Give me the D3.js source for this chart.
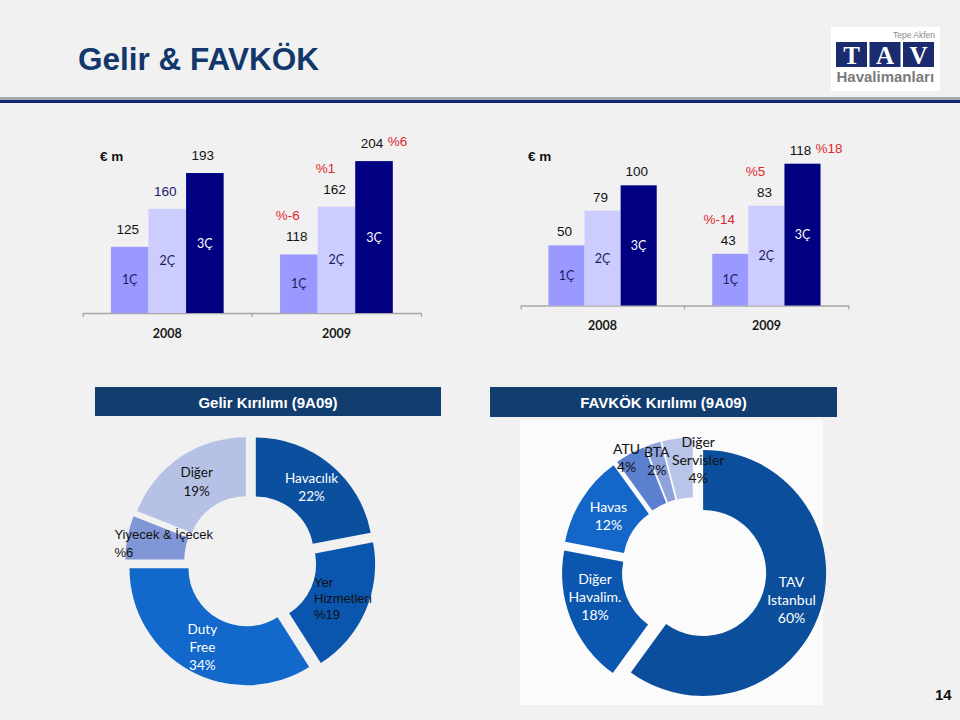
<!DOCTYPE html>
<html><head><meta charset="utf-8">
<script src="https://cdn.jsdelivr.net/npm/d3@7"></script>
<style>body{margin:0;background:#f1f1f1}svg{display:block}</style>
</head><body>
<svg id="c" width="960" height="720"></svg>
<script>
// ---------- DATA ----------
const years = ["2008", "2009"];
const quarters = ["1Ç", "2Ç", "3Ç"];
const gelir2008 = [125, 160, 193];
const gelir2009 = [118, 162, 204];
const gelirGrowth = ["%-6", "%1", "%6"];
const favkok2008 = [50, 79, 100];
const favkok2009 = [43, 83, 118];
const favkokGrowth = ["%-14", "%5", "%18"];
const gelirSegments = ["Havacılık", "Yer Hizmetleri", "Duty Free", "Yiyecek & İçecek", "Diğer"];
const gelirShares = [22, 19, 34, 6, 19];
const gelirLabels = [["Havacılık", "22%"], ["Yer", "Hizmetleri", "%19"], ["Duty", "Free", "34%"], ["Yiyecek & İçecek", "%6"], ["Diğer", "19%"]];
const favkokSegments = ["TAV Istanbul", "Diğer Havalim.", "Havas", "ATU", "BTA", "Diğer Servisler"];
const favkokShares = [60, 18, 12, 4, 2, 4];
const favkokLabels = [["TAV", "Istanbul", "60%"], ["Diğer", "Havalim.", "18%"], ["Havas", "12%"], ["ATU", "4%"], ["BTA", "2%"], ["Diğer", "Servisler", "4%"]];

// ---------- STYLE ----------
const SANS = "'Liberation Sans', Arial, sans-serif";
const CAL = "Lato, 'Open Sans', sans-serif";
const quarterColors = ["#9999ff", "#ccccff", "#000080"];
const quarterText = ["#1c1c5c", "#1c1c5c", "#ffffff"];
const RED = "#e0282d";

const svg = d3.select("#c");
svg.append("rect").attr("width", 960).attr("height", 720).attr("fill", "#f1f1f1");

// title
svg.append("text").attr("x", 78).attr("y", 70).attr("font-family", SANS).attr("font-weight", "bold")
  .attr("font-size", 31.5).attr("fill", "#12386b").text("Gelir & FAVKÖK");
svg.append("rect").attr("x", 0).attr("y", 97).attr("width", 960).attr("height", 3).attr("fill", "#a3a8b3");
svg.append("rect").attr("x", 0).attr("y", 100).attr("width", 960).attr("height", 3).attr("fill", "#14286e");

// logo
const logo = svg.append("g");
logo.append("rect").attr("x", 831).attr("y", 27).attr("width", 109).attr("height", 64).attr("fill", "#ffffff");
logo.append("text").attr("x", 935).attr("y", 38).attr("text-anchor", "end").attr("font-family", SANS)
  .attr("font-size", 8.5).attr("fill", "#8a8a8a").text("Tepe Akfen");
["T", "A", "V"].forEach((ch, i) => {
  const x = 836 + i * 33.5;
  logo.append("rect").attr("x", x).attr("y", 42).attr("width", 31).attr("height", 25).attr("fill", "#1b2c6e");
  logo.append("text").attr("x", x + 15.5).attr("y", 64).attr("text-anchor", "middle")
    .attr("font-family", "'Liberation Serif', 'DejaVu Serif', serif").attr("font-size", 25).attr("font-weight", "bold")
    .attr("fill", "#ffffff").text(ch);
});
logo.append("text").attr("x", 836.5).attr("y", 82).attr("font-family", SANS).attr("font-weight", "bold")
  .attr("font-size", 15).attr("fill", "#7a7a7a").text("Havalimanları");

// page number
svg.append("text").attr("x", 935).attr("y", 700).attr("font-family", SANS).attr("font-weight", "bold")
  .attr("font-size", 15).attr("fill", "#111").text("14");

// ---------- BAR CHARTS ----------
function barChart(cfg) {
  const g = svg.append("g");
  const x0 = d3.scaleBand().domain(years).range(cfg.xr);
  const x1 = d3.scaleBand().domain(quarters).range([0, x0.bandwidth()]).paddingOuter(cfg.po);
  const y = d3.scaleLinear().domain(cfg.yd).range(cfg.yr);
  const base = cfg.yr[0];

  const ax = g.append("g").attr("transform", `translate(0,${base})`)
    .call(d3.axisBottom(x0).tickSize(0).tickSizeOuter(4).tickPadding(cfg.tp));
  ax.select(".domain").attr("stroke", "#a6a6a6").attr("stroke-width", 1.3);
  ax.selectAll("text").attr("font-family", CAL).attr("font-weight", "bold").attr("font-size", 12.5).attr("fill", "#1a1a1a");
  g.append("line").attr("x1", x0(years[1])).attr("x2", x0(years[1])).attr("y1", base).attr("y2", base + 4)
    .attr("stroke", "#a6a6a6").attr("stroke-width", 1.3);

  g.append("text").attr("x", cfg.unitX).attr("y", 161).attr("font-family", SANS).attr("font-weight", "bold")
    .attr("font-size", 13.5).attr("fill", "#111").text("€ m");

  cfg.series.forEach((vals, i) => {
    vals.forEach((v, j) => {
      const xb = x0(years[i]) + x1(quarters[j]);
      const w = x1.bandwidth();
      const top = y(v);
      g.append("rect").attr("x", xb).attr("y", top).attr("width", w).attr("height", base - top).attr("fill", quarterColors[j]);
      g.append("text").attr("x", xb + w / 2).attr("y", (top + base) / 2 + 4.5).attr("text-anchor", "middle")
        .attr("font-family", CAL).attr("font-size", 12.5).attr("fill", quarterText[j]).text(quarters[j]);
      const ly = top - cfg.gap;
      g.append("text").attr("x", xb + w / 2 - 2).attr("y", ly).attr("text-anchor", "middle")
        .attr("font-family", SANS).attr("font-size", 13.5)
        .attr("fill", (cfg.navyLabel && i === 0 && j === 1) ? "#1a1a6e" : "#111").text(v);
      if (i === 1) {
        if (j < 2) {
          g.append("text").attr("x", xb + w / 2 - 11).attr("y", ly - 21).attr("text-anchor", "middle")
            .attr("font-family", SANS).attr("font-size", 13.5).attr("fill", RED).text(cfg.growth[j]);
        } else {
          g.append("text").attr("x", xb + w - 5).attr("y", top - cfg.gap - 2)
            .attr("font-family", SANS).attr("font-size", 13.5).attr("fill", RED).text(cfg.growth[j]);
        }
      }
    });
  });
}

barChart({ series: [gelir2008, gelir2009], growth: gelirGrowth, xr: [82.7, 421], po: 0.75,
  yd: [64, 210], yr: [313, 154.6], tp: 16, gap: 13, unitX: 100, navyLabel: true });
barChart({ series: [favkok2008, favkok2009], growth: favkokGrowth, xr: [520.7, 848.3], po: 0.77,
  yd: [0, 118], yr: [305.5, 163.7], tp: 16, gap: 9, unitX: 528, navyLabel: false });

// ---------- HEADERS ----------
function header(x, y, w, h, txt) {
  svg.append("rect").attr("x", x).attr("y", y).attr("width", w).attr("height", h).attr("fill", "#113d6f");
  svg.append("text").attr("x", x + w / 2).attr("y", y + 21).attr("text-anchor", "middle").attr("font-family", SANS)
    .attr("font-weight", "bold").attr("font-size", 15).attr("fill", "#ffffff").text(txt);
}
header(95, 387, 346, 29, "Gelir Kırılımı (9A09)");
header(490, 387, 347, 30, "FAVKÖK Kırılımı (9A09)");

svg.append("rect").attr("x", 520).attr("y", 420).attr("width", 303).attr("height", 285).attr("fill", "#fbfbfb");

// ---------- DONUTS ----------
function donut(cfg) {
  const pie = d3.pie().sort(null).value(d => d)(cfg.shares);
  const arc = d3.arc().innerRadius(cfg.r).outerRadius(cfg.R);
  const g = svg.append("g").attr("transform", `translate(${cfg.cx},${cfg.cy})`);
  pie.forEach((p, i) => {
    const mid = (p.startAngle + p.endAngle) / 2;
    const ox = Math.sin(mid) * cfg.ex, oy = -Math.cos(mid) * cfg.ex;
    g.append("path").attr("d", arc(p)).attr("transform", `translate(${ox},${oy})`).attr("fill", cfg.colors[i])
      .append("title").text(cfg.names[i]);
  });
  pie.forEach((p, i) => {
    const mid = (p.startAngle + p.endAngle) / 2;
    const ox = Math.sin(mid) * cfg.ex, oy = -Math.cos(mid) * cfg.ex;
    const c = arc.centroid(p);
    const lay = cfg.layout[i];
    const lines = cfg.labels[i];
    const t = g.append("text").attr("text-anchor", lay.anchor).attr("font-family", lay.font)
      .attr("font-size", lay.size).attr("fill", lay.color);
    lines.forEach((ln, k) => {
      t.append("tspan").attr("x", c[0] + ox + lay.dx)
        .attr("y", c[1] + oy + lay.dy - (lines.length - 1) * lay.lh / 2 + 5 + k * lay.lh).text(ln);
    });
  });
}

donut({
  cx: 250.5, cy: 561, R: 117, r: 58, ex: 8.3, shares: gelirShares, labels: gelirLabels, names: gelirSegments,
  colors: ["#0b4f9f", "#0a55ad", "#1368cc", "#8196d6", "#b5c2e5"],
  layout: [
    { dx: 0, dy: 0, anchor: "middle", font: CAL, size: 13.5, color: "#ffffff", lh: 17.7 },
    { dx: -24.4, dy: -1, anchor: "start", font: SANS, size: 13, color: "#111", lh: 16.3 },
    { dx: -2, dy: 2, anchor: "middle", font: CAL, size: 13.5, color: "#ffffff", lh: 17.7 },
    { dx: -42, dy: 0, anchor: "start", font: SANS, size: 13, color: "#111", lh: 17.4 },
    { dx: 0, dy: 0, anchor: "middle", font: CAL, size: 13.5, color: "#111", lh: 18.7 }
  ]
});

donut({
  cx: 694, cy: 570, R: 123, r: 63, ex: 9.6, shares: favkokShares, labels: favkokLabels, names: favkokSegments,
  colors: ["#0b4e9c", "#0b56ae", "#1467c9", "#5b80cf", "#8ea2dc", "#b9c5e8"],
  layout: [
    { dx: 0, dy: -2, anchor: "middle", font: CAL, size: 14, color: "#ffffff", lh: 18 },
    { dx: -3.6, dy: -10.8, anchor: "middle", font: CAL, size: 14, color: "#ffffff", lh: 18 },
    { dx: 1, dy: 0.8, anchor: "middle", font: CAL, size: 14, color: "#ffffff", lh: 18.3 },
    { dx: -18, dy: -22.2, anchor: "middle", font: CAL, size: 14, color: "#111", lh: 17.7 },
    { dx: -5.6, dy: -11.4, anchor: "middle", font: CAL, size: 14, color: "#111", lh: 18 },
    { dx: 17, dy: -8.2, anchor: "middle", font: CAL, size: 14, color: "#111", lh: 18.2 }
  ]
});
</script>
</body></html>
